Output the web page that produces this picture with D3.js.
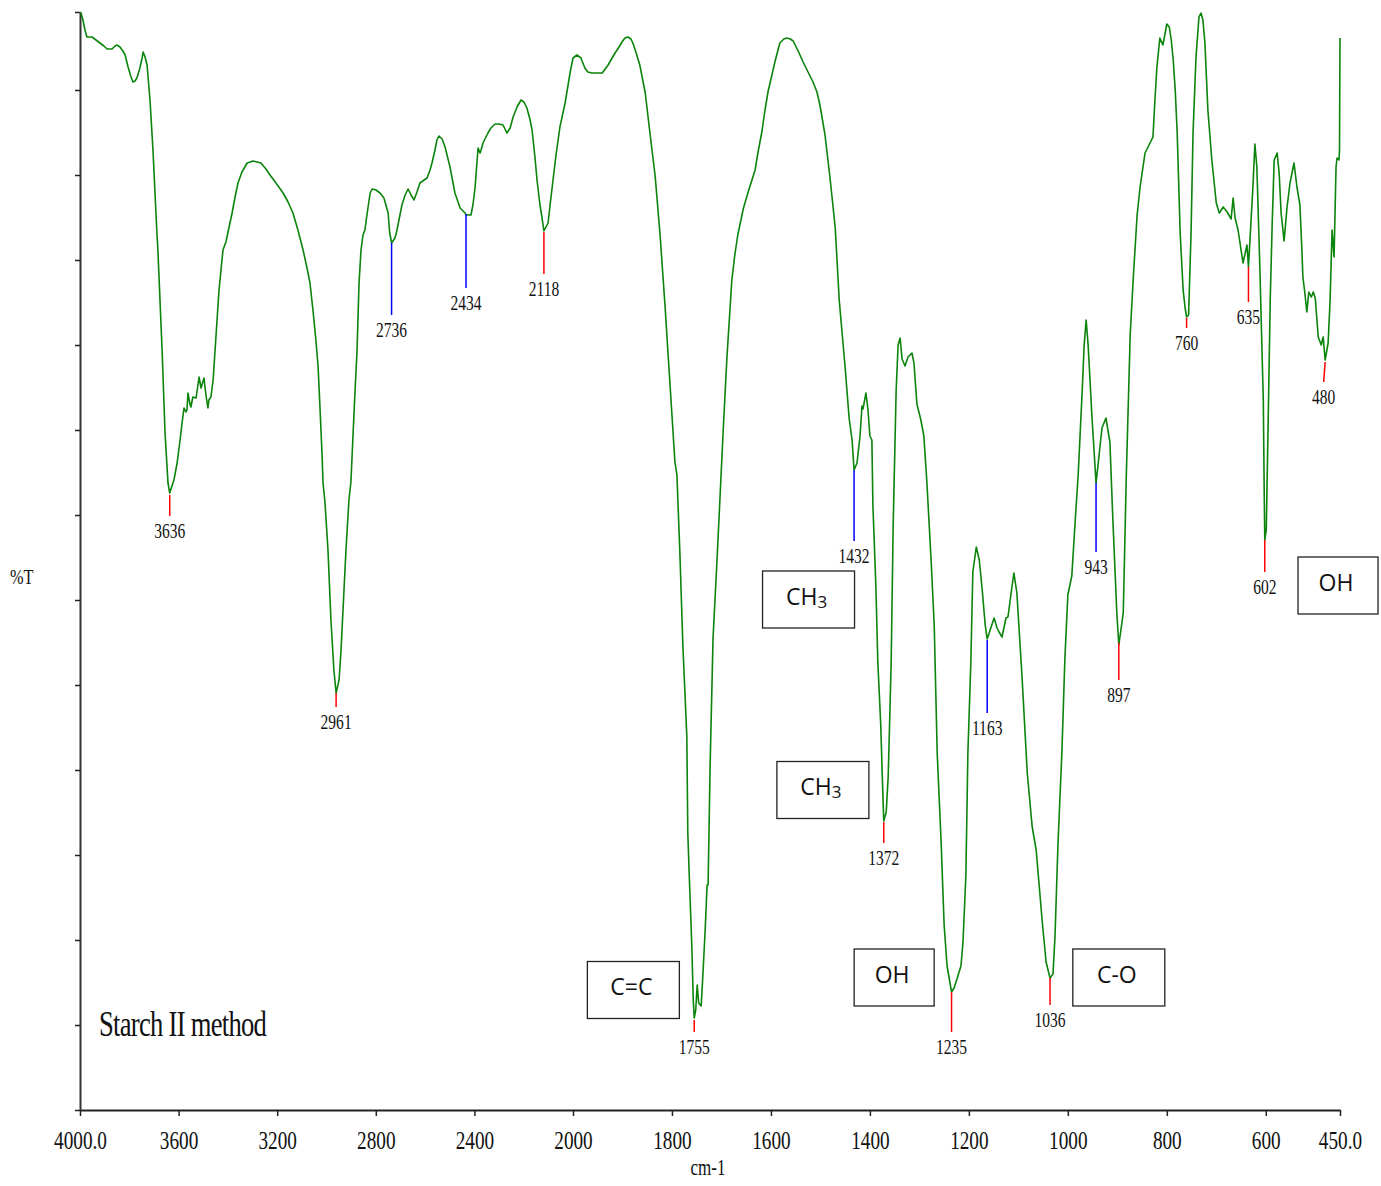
<!DOCTYPE html>
<html>
<head>
<meta charset="utf-8">
<script src="https://cdn.jsdelivr.net/npm/d3@7"></script>
<style>
  html, body { margin: 0; padding: 0; background: #fff; }
  svg { display: block; }
</style>
</head>
<body>
<svg id="chart"></svg>
<script>
"use strict";

/* ── Data: FTIR spectrum (wavenumber cm-1 → %T) ─────────── */
const wavenumber = [
  4000, 3996, 3988, 3980, 3972, 3951, 3935, 3919, 3903, 3890, 3870, 3858, 3850, 3838, 3826, 3817,
  3805, 3793, 3785, 3777, 3769, 3757, 3748, 3744, 3736, 3728, 3716, 3704, 3688, 3684, 3667, 3655,
  3643, 3636, 3619, 3606, 3594, 3586, 3578, 3570, 3566, 3562, 3554, 3550, 3542, 3529, 3517, 3509,
  3497, 3489, 3481, 3477, 3469, 3460, 3452, 3436, 3420, 3408, 3396, 3383, 3371, 3359, 3343, 3322,
  3298, 3282, 3266, 3249, 3229, 3205, 3176, 3156, 3136, 3116, 3095, 3079, 3067, 3055, 3043, 3034,
  3026, 3018, 3014, 3006, 2994, 2982, 2970, 2961, 2949, 2941, 2933, 2921, 2909, 2901, 2892, 2884,
  2876, 2868, 2860, 2852, 2844, 2836, 2823, 2815, 2799, 2783, 2767, 2750, 2744, 2736, 2722, 2714,
  2702, 2694, 2681, 2669, 2657, 2645, 2633, 2621, 2604, 2592, 2580, 2572, 2560, 2552, 2544, 2531,
  2519, 2499, 2479, 2458, 2438, 2434, 2414, 2406, 2397, 2389, 2385, 2377, 2373, 2365, 2345, 2333,
  2316, 2300, 2284, 2268, 2255, 2243, 2227, 2211, 2199, 2187, 2174, 2166, 2154, 2146, 2134, 2126,
  2118, 2101, 2093, 2081, 2069, 2053, 2032, 2012, 2000, 1992, 1984, 1976, 1970, 1962, 1951, 1941,
  1935, 1929, 1921, 1915, 1907, 1901, 1895, 1889, 1883, 1879, 1873, 1865, 1854, 1844, 1834, 1824,
  1814, 1804, 1794, 1790, 1784, 1778, 1770, 1768, 1764, 1760, 1757, 1755, 1752, 1749, 1746, 1741,
  1737, 1733, 1729, 1727, 1723, 1717, 1711, 1707, 1697, 1689, 1679, 1673, 1667, 1656, 1646, 1632,
  1626, 1618, 1612, 1606, 1598, 1592, 1582, 1574, 1568, 1561, 1555, 1545, 1535, 1525, 1515, 1507,
  1501, 1491, 1481, 1470, 1462, 1450, 1442, 1436, 1432, 1426, 1420, 1416, 1414, 1408, 1404, 1400,
  1396, 1394, 1388, 1384, 1378, 1375, 1372, 1367, 1363, 1357, 1353, 1347, 1343, 1339, 1335, 1329,
  1323, 1315, 1311, 1305, 1297, 1291, 1285, 1276, 1270, 1264, 1256, 1250, 1244, 1235, 1230, 1224,
  1216, 1212, 1206, 1202, 1196, 1192, 1185, 1179, 1173, 1167, 1163, 1157, 1149, 1143, 1139, 1133,
  1125, 1121, 1113, 1109, 1103, 1093, 1082, 1072, 1064, 1058, 1052, 1044, 1036, 1030, 1026, 1020,
  1012, 1006, 1000, 992, 985, 979, 971, 967, 963, 959, 951, 943, 939, 931, 923, 915,
  909, 901, 897, 888, 882, 874, 868, 860, 854, 844, 834, 828, 824, 820, 814, 808,
  804, 800, 795, 791, 787, 783, 779, 773, 767, 763, 760, 756, 751, 747, 741, 735,
  731, 727, 723, 717, 709, 700, 694, 686, 678, 670, 666, 662, 656, 646, 638, 635,
  626, 622, 618, 612, 605, 603, 602, 599, 595, 591, 587, 583, 577, 573, 569, 563,
  557, 551, 543, 537, 531, 527, 525, 521, 517, 513, 508, 504, 500, 494, 488, 484,
  480, 474, 470, 466, 462, 458, 456, 452, 451, 450
];

const transmittance = [
  109.8, 109.7, 109.0, 108.0, 107.3, 107.3, 107.0, 106.7, 106.4, 106.1, 106.1, 106.4, 106.5, 106.3, 105.9, 105.5,
  104.3, 103.3, 102.8, 102.9, 103.2, 104.2, 105.2, 105.8, 105.3, 104.5, 101.0, 96.0, 87.7, 86.0, 76.0, 67.7,
  62.7, 61.7, 63.0, 64.7, 67.0, 68.7, 70.2, 69.8, 70.0, 71.7, 70.6, 70.3, 71.3, 71.2, 73.3, 72.2,
  73.2, 71.5, 70.2, 71.0, 71.3, 73.0, 76.0, 82.0, 86.0, 86.8, 88.2, 89.7, 91.3, 92.7, 93.8, 94.7,
  94.9, 94.8, 94.7, 94.2, 93.5, 92.7, 91.7, 90.8, 89.7, 88.0, 86.0, 84.2, 82.7, 80.0, 77.0, 74.3,
  70.0, 65.5, 62.7, 60.7, 56.0, 49.0, 44.0, 41.7, 43.0, 46.0, 50.0, 56.0, 61.0, 62.8, 67.7, 72.0,
  76.0, 82.7, 86.0, 87.5, 88.0, 89.5, 91.7, 92.1, 92.0, 91.7, 91.2, 89.7, 87.8, 86.7, 87.2, 88.0,
  89.5, 90.5, 91.5, 92.1, 91.5, 91.0, 91.8, 92.7, 93.0, 93.2, 94.0, 94.7, 96.0, 97.0, 97.4, 97.1,
  96.3, 94.3, 91.7, 90.2, 89.7, 89.5, 89.5, 90.5, 92.3, 95.0, 96.2, 95.7, 96.0, 96.7, 97.7, 98.2,
  98.6, 98.6, 98.5, 97.7, 98.2, 99.3, 100.3, 101.0, 100.8, 100.2, 99.0, 98.0, 95.2, 93.0, 90.5, 89.3,
  87.9, 88.7, 90.5, 93.0, 95.5, 98.3, 100.7, 103.7, 105.2, 105.5, 105.2, 104.2, 103.8, 103.7, 103.7, 103.7,
  104.1, 104.5, 105.2, 105.7, 106.3, 106.8, 107.2, 107.3, 107.1, 106.7, 105.8, 104.5, 101.7, 97.5, 93.4, 87.5,
  80.4, 72.6, 64.8, 63.5, 55.7, 46.5, 37.4, 27.7, 22.0, 16.6, 11.0, 9.2, 10.0, 12.5, 10.7, 10.4,
  14.0, 17.9, 22.5, 22.5, 34.2, 47.2, 53.0, 57.0, 67.4, 75.2, 83.0, 85.5, 87.5, 90.1, 91.8, 94.0,
  95.8, 97.9, 100.0, 101.8, 103.5, 104.8, 106.7, 107.1, 107.2, 107.1, 106.9, 105.9, 104.8, 103.8, 102.8, 101.8,
  100.5, 97.6, 93.4, 88.2, 81.0, 74.2, 69.2, 67.0, 64.0, 64.7, 67.4, 70.4, 70.1, 71.7, 70.1, 67.4,
  67.0, 60.6, 52.5, 44.8, 38.4, 33.4, 28.9, 29.8, 33.4, 44.8, 58.4, 71.9, 76.5, 77.2, 75.1, 74.4,
  75.3, 75.7, 74.7, 70.6, 69.0, 67.4, 62.9, 54.7, 48.4, 35.7, 26.7, 18.5, 14.4, 11.8, 12.2, 13.1,
  14.4, 16.7, 23.5, 35.7, 44.8, 53.8, 56.3, 55.0, 52.0, 48.5, 47.1, 48.0, 49.2, 48.2, 47.8, 47.3,
  49.2, 49.3, 52.3, 53.7, 51.7, 43.7, 33.7, 28.3, 26.0, 22.5, 19.0, 14.8, 13.2, 13.6, 17.3, 26.5,
  35.8, 45.1, 51.5, 53.4, 59.0, 63.6, 71.9, 76.5, 79.0, 76.5, 69.1, 62.7, 64.5, 68.2, 69.2, 66.8,
  59.0, 49.7, 46.5, 49.7, 63.1, 77.5, 83.0, 89.5, 92.3, 95.7, 96.7, 97.3, 101.0, 104.3, 107.2, 106.5,
  107.5, 108.6, 108.3, 107.0, 105.0, 102.0, 97.7, 87.7, 82.0, 80.2, 79.3, 79.5, 87.7, 97.7, 105.3, 109.3,
  109.7, 109.0, 106.7, 100.0, 95.0, 90.7, 89.7, 90.3, 89.8, 89.1, 91.2, 89.2, 88.0, 84.7, 86.5, 84.3,
  92.3, 96.6, 94.3, 84.3, 71.0, 61.0, 57.0, 58.0, 69.3, 81.0, 88.7, 95.0, 95.7, 93.7, 89.7, 86.9,
  90.3, 92.7, 94.7, 92.3, 90.5, 86.0, 83.3, 81.7, 79.8, 81.8, 81.3, 81.8, 81.2, 77.3, 76.5, 77.3,
  75.0, 76.7, 81.0, 88.0, 85.3, 94.3, 95.2, 95.0, 96.0, 107.2
];

/* ── Peak markers ───────────────────────────────────────── */
const peakWn    = [3636, 2961, 2736, 2434, 2118, 1755, 1432, 1372, 1235, 1163, 1036, 943, 897, 760, 635, 602, 480];
const peakFoot  = [3636, 2961, 2736, 2434, 2118, 1755, 1432, 1372, 1235, 1163, 1036, 943, 897, 760, 635, 602, 483];
const peakTop   = [61.5, 41.7, 86.7, 89.6, 87.8, 9.0, 64.0, 28.8, 11.8, 47.0, 13.2, 62.7, 46.7, 79.2, 84.3, 57.0, 74.8];
const peakEnd   = [59.4, 40.3, 79.5, 82.2, 83.6, 7.8, 56.9, 26.7, 7.8, 39.7, 10.5, 55.8, 43.0, 78.2, 80.8, 53.8, 72.8];
const peakKind  = ["r", "r", "b", "b", "r", "r", "b", "r", "r", "b", "r", "b", "r", "r", "r", "r", "r"];

/* ── Functional group boxes ─────────────────────────────── */
const groupText = ["C=C", "OH", "CH3", "CH3", "C-O", "OH"];
const groupWn   = [1878, 1351, 1524, 1495, 897, 454];
const groupT    = [12.0, 13.25, 51.05, 32.0, 13.25, 52.45];

/* ── Axis ticks ─────────────────────────────────────────── */
const xTicks = [4000, 3600, 3200, 2800, 2400, 2000, 1800, 1600, 1400, 1200, 1000, 800, 600, 450];
const yTicks = [0, 8.5, 17, 25.5, 34, 42.5, 51, 59.5, 68, 76.5, 85, 93.5, 102, 109.8];

/* ── Layout ─────────────────────────────────────────────── */
const W = 1381, H = 1186;
const X0 = 80, XB = 573, X1 = 1340;
const Y0 = 1110, Y1 = 12;
const SQ = 0.74;                 // condensed serif look
const SERIF = "'Liberation Serif', 'Times New Roman', serif";
const SANS  = "'Open Sans', 'Noto Sans', sans-serif";

const svg = d3.select("#chart").attr("width", W).attr("height", H);
svg.append("rect").attr("width", W).attr("height", H).attr("fill", "#fff");

/* Instrument scale changes at 2000 cm-1 */
const x = d3.scaleLinear().domain([4000, 2000, 450]).range([X0, XB, X1]);
const y = d3.scaleLinear().domain([0, 109.8]).range([Y0, Y1]);

function squeezedText(parent, px, py, txt, size, anchor) {
  return parent.append("text")
    .attr("transform", `translate(${px},${py}) scale(${SQ},1)`)
    .attr("text-anchor", anchor || "middle")
    .attr("font-family", SERIF)
    .attr("font-size", size)
    .attr("fill", "#111")
    .text(txt);
}

/* ── Axes ───────────────────────────────────────────────── */
const xAxis = svg.append("g")
  .attr("transform", `translate(0,${Y0})`)
  .call(d3.axisBottom(x).tickValues(xTicks).tickSizeInner(6).tickSizeOuter(0)
    .tickFormat((d) => (d === 4000 || d === 450 ? d.toFixed(1) : d)));
xAxis.select(".domain").attr("stroke", "#222").attr("stroke-width", 2);
xAxis.selectAll(".tick line").attr("stroke", "#222").attr("stroke-width", 1.5);
xAxis.selectAll(".tick text")
  .attr("y", 0).attr("dy", 0)
  .attr("transform", `translate(0,39) scale(${SQ},1)`)
  .attr("font-family", SERIF).attr("font-size", 26).attr("fill", "#111");

const yAxis = svg.append("g")
  .attr("transform", `translate(${X0},0)`)
  .call(d3.axisLeft(y).tickValues(yTicks).tickSizeInner(5).tickSizeOuter(0).tickFormat(""));
yAxis.select(".domain").attr("stroke", "#333").attr("stroke-width", 2);
yAxis.selectAll(".tick line").attr("stroke", "#222").attr("stroke-width", 1.5);

/* Axis titles */
squeezedText(svg, 708, 1175, "cm-1", 23);
squeezedText(svg, 10, 584, "%T", 22, "start");

/* ── Spectrum ───────────────────────────────────────────── */
const spectrum = wavenumber.map((w, i) => ({ w, t: transmittance[i] }));
svg.append("path")
  .datum(spectrum)
  .attr("fill", "none")
  .attr("stroke", "#0a840a")
  .attr("stroke-width", 1.6)
  .attr("stroke-linejoin", "round")
  .attr("d", d3.line().x((d) => x(d.w)).y((d) => y(d.t)));

/* ── Peak markers and labels ────────────────────────────── */
const peaks = svg.append("g");
peakWn.forEach((w, i) => {
  peaks.append("line")
    .attr("x1", x(w)).attr("y1", y(peakTop[i]))
    .attr("x2", x(peakFoot[i])).attr("y2", y(peakEnd[i]))
    .attr("stroke", peakKind[i] === "b" ? "#0000ff" : "#ff0000")
    .attr("stroke-width", 1.5);
  squeezedText(peaks, x(peakFoot[i]), y(peakEnd[i]) + 22, String(w), 21);
});

/* ── Functional group boxes ─────────────────────────────── */
const groups = svg.append("g");
groupText.forEach((label, i) => {
  const cx = x(groupWn[i]), cy = y(groupT[i]);
  const bw = label === "OH" ? 80 : 92, bh = 57;
  groups.append("rect")
    .attr("x", cx - bw / 2).attr("y", cy - bh / 2)
    .attr("width", bw).attr("height", bh)
    .attr("fill", "#fff").attr("stroke", "#222").attr("stroke-width", 1.3);
  const t = groups.append("text")
    .attr("x", cx - 2).attr("y", cy + 5)
    .attr("text-anchor", "middle")
    .attr("font-family", SANS).attr("font-size", 23).attr("fill", "#111");
  if (label === "CH3") {
    t.append("tspan").text("CH");
    t.append("tspan").attr("font-size", 17).attr("dy", 3).text("3");
  } else {
    t.text(label);
  }
});

/* Sample caption */
squeezedText(svg, 99, 1036, "Starch II method", 36, "start").attr("letter-spacing", -1);
</script>
</body>
</html>
